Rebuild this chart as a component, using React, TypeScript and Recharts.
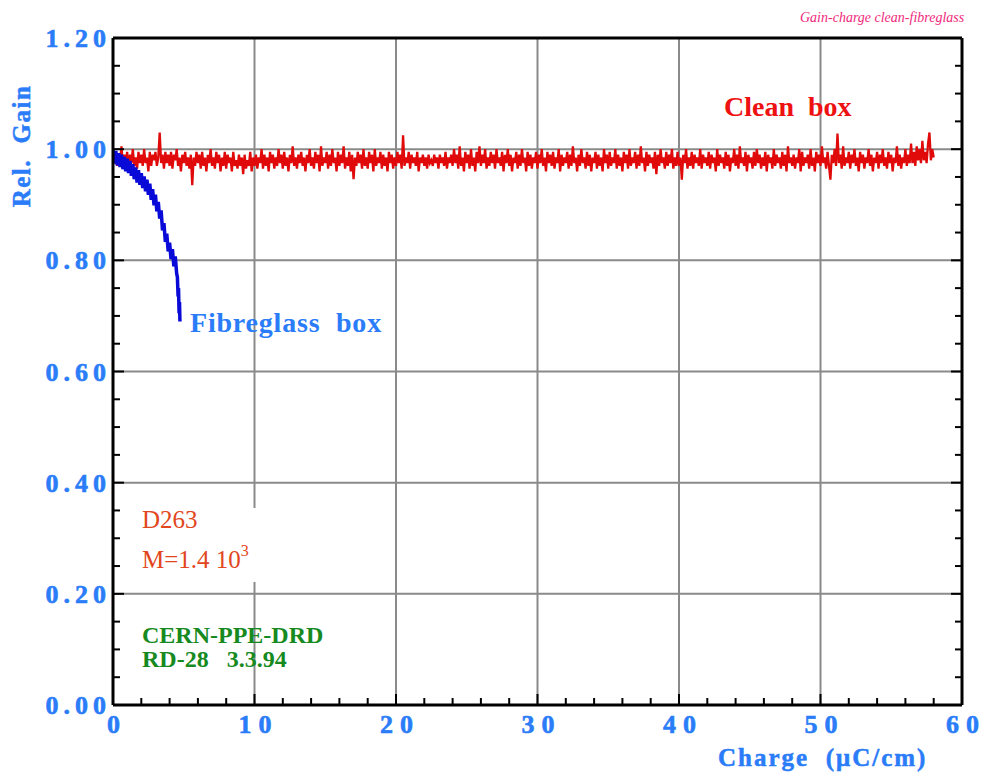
import React from "react";
import { LineChart, Line, XAxis, YAxis, CartesianGrid } from "recharts";

// Clean box: relative gain sampled every 0.1 uC/cm from 0 to 58
const CHARGE_STEP = 0.1;
const cleanGain = [
  1.0, 0.975, 0.995, 0.97, 0.99, 0.98, 1.005, 0.97, 0.99, 0.975,
  0.995, 0.965, 0.99, 0.975, 1.0, 0.97, 0.985, 0.965, 0.995, 0.975,
  0.99, 0.97, 1.0, 0.975, 0.985, 0.96, 0.995, 0.97, 0.99, 0.98,
  0.995, 0.97, 0.985, 1.03, 0.975, 0.99, 0.965, 0.995, 0.975, 0.99,
  0.97, 0.995, 0.965, 0.99, 0.98, 1.0, 0.97, 0.985, 0.96, 0.99,
  0.975, 0.995, 0.97, 0.985, 0.965, 0.99, 0.935, 0.985, 0.97, 0.995,
  0.975, 0.99, 0.965, 0.995, 0.97, 0.985, 0.96, 0.99, 0.975, 1.0,
  0.97, 0.985, 0.965, 0.995, 0.975, 0.99, 0.96, 0.985, 0.97, 0.995,
  0.965, 0.99, 0.975, 0.985, 0.96, 0.995, 0.97, 0.98, 0.965, 0.99,
  0.97, 0.985, 0.955, 0.99, 0.965, 0.98, 0.97, 0.995, 0.96, 0.985,
  0.97, 0.99, 0.965, 0.985, 0.975, 1.0, 0.965, 0.99, 0.97, 0.985,
  0.96, 0.995, 0.975, 0.99, 0.965, 0.985, 0.97, 1.0, 0.975, 0.99,
  0.965, 0.995, 0.97, 0.985, 0.96, 0.99, 0.975, 1.005, 0.97, 0.985,
  0.965, 0.99, 0.975, 0.995, 0.97, 0.985, 0.96, 0.99, 0.975, 1.0,
  0.97, 0.985, 0.965, 0.995, 0.975, 0.99, 0.96, 1.005, 0.97, 0.985,
  0.975, 0.995, 0.965, 0.99, 0.97, 1.0, 0.975, 0.985, 0.96, 0.995,
  0.97, 0.99, 0.975, 1.005, 0.965, 0.985, 0.97, 0.995, 0.96, 0.99,
  0.946, 0.985, 0.97, 0.995, 0.975, 0.99, 0.965, 1.0, 0.97, 0.985,
  0.965, 0.995, 0.975, 0.99, 0.96, 1.0, 0.97, 0.985, 0.975, 0.995,
  0.965, 0.99, 0.97, 0.985, 0.96, 0.995, 0.975, 0.99, 0.965, 0.985,
  0.97, 0.995, 0.975, 0.99, 0.965, 1.025, 0.97, 0.985, 0.975, 0.995,
  0.965, 0.99, 0.975, 0.985, 0.97, 0.995, 0.96, 0.985, 0.975, 0.99,
  0.97, 0.985, 0.965, 0.99, 0.975, 0.98, 0.97, 0.99, 0.975, 0.985,
  0.965, 0.99, 0.975, 0.985, 0.97, 0.995, 0.965, 0.985, 0.975, 0.99,
  0.97, 1.0, 0.975, 0.99, 0.965, 1.005, 0.97, 0.985, 0.96, 0.995,
  0.975, 0.99, 0.965, 1.0, 0.97, 0.985, 0.96, 0.995, 0.975, 1.005,
  0.97, 0.99, 0.975, 1.0, 0.965, 0.985, 0.97, 0.995, 0.975, 0.99,
  0.965, 1.0, 0.975, 0.985, 0.97, 0.995, 0.96, 0.99, 0.975, 1.0,
  0.97, 0.99, 0.96, 0.985, 0.975, 0.995, 0.965, 0.99, 0.97, 1.0,
  0.975, 0.985, 0.96, 0.995, 0.97, 0.99, 0.965, 0.985, 0.975, 0.995,
  0.965, 0.99, 0.975, 1.0, 0.97, 0.985, 0.96, 0.995, 0.975, 0.99,
  0.97, 0.995, 0.965, 0.985, 0.975, 1.0, 0.96, 0.99, 0.97, 0.985,
  0.975, 0.995, 0.965, 0.99, 0.97, 1.005, 0.975, 0.985, 0.96, 0.99,
  0.97, 1.0, 0.975, 0.985, 0.965, 0.995, 0.97, 0.99, 0.96, 0.985,
  0.975, 0.995, 0.965, 0.99, 0.97, 0.985, 0.96, 1.0, 0.975, 0.99,
  0.965, 0.995, 0.97, 0.985, 0.975, 1.0, 0.965, 0.99, 0.97, 0.985,
  0.96, 0.995, 0.975, 0.99, 0.965, 1.0, 0.97, 0.985, 0.975, 0.995,
  0.965, 0.99, 0.97, 1.005, 0.975, 0.985, 0.96, 0.995, 0.97, 0.99,
  0.975, 0.985, 0.965, 0.995, 0.955, 0.99, 0.97, 1.0, 0.975, 0.985,
  0.965, 0.995, 0.97, 0.99, 0.975, 1.0, 0.965, 0.985, 0.97, 0.995,
  0.97, 0.985, 0.945, 0.99, 0.975, 1.0, 0.965, 0.985, 0.97, 0.995,
  0.965, 0.99, 0.975, 0.985, 0.97, 1.0, 0.965, 0.99, 0.975, 0.985,
  0.97, 0.995, 0.965, 0.99, 0.975, 0.985, 0.96, 1.0, 0.97, 0.99,
  0.975, 0.985, 0.965, 0.995, 0.97, 0.99, 0.96, 0.985, 0.975, 1.0,
  0.97, 0.99, 0.965, 1.005, 0.975, 0.985, 0.97, 0.995, 0.96, 0.99,
  0.975, 0.985, 0.965, 0.995, 0.97, 1.0, 0.975, 0.99, 0.965, 0.985,
  0.97, 0.995, 0.96, 0.99, 0.975, 0.985, 0.965, 1.0, 0.97, 0.99,
  0.975, 0.985, 0.965, 0.995, 0.97, 0.99, 0.96, 1.005, 0.975, 0.985,
  0.97, 0.99, 0.965, 0.985, 0.975, 1.0, 0.96, 0.995, 0.97, 0.985,
  0.975, 0.99, 0.965, 1.0, 0.97, 0.985, 0.96, 0.995, 0.975, 0.99,
  0.97, 1.005, 0.975, 0.985, 0.965, 0.995, 0.97, 0.945, 0.99, 0.975,
  1.0, 0.97, 1.028, 0.975, 0.99, 0.965, 1.005, 0.97, 0.985, 0.975,
  0.995, 0.965, 0.99, 0.975, 1.0, 0.97, 0.985, 0.96, 0.995, 0.975,
  0.99, 0.965, 0.985, 0.975, 1.0, 0.97, 0.99, 0.96, 0.985, 0.975,
  0.995, 0.965, 0.99, 0.975, 1.0, 0.97, 0.985, 0.965, 0.995, 0.975,
  0.99, 0.96, 0.985, 0.975, 1.005, 0.97, 0.99, 0.965, 0.985, 0.975,
  1.0, 0.97, 0.99, 0.975, 1.01, 0.975, 0.995, 0.97, 1.005, 0.98,
  1.0, 0.975, 1.015, 0.98, 0.995, 0.975, 1.01, 1.03, 0.98, 1.0,
  0.985,
];

// Fibreglass box
const fibreCharge = [
  0.0, 0.1, 0.2, 0.3, 0.4, 0.5, 0.6, 0.7, 0.8, 0.9,
  1.0, 1.1, 1.2, 1.3, 1.4, 1.5, 1.6, 1.7, 1.8, 1.9,
  2.0, 2.1, 2.2, 2.3, 2.4, 2.5, 2.6, 2.7, 2.8, 2.9,
  3.0, 3.1, 3.2, 3.3, 3.4, 3.5, 3.6, 3.7, 3.8, 3.9,
  4.0, 4.1, 4.2, 4.3, 4.4, 4.5, 4.55, 4.6, 4.63, 4.67, 4.7, 4.73,
];
const fibreGain = [
  1.0, 0.974, 0.997, 0.971, 0.993, 0.968, 0.99, 0.964, 0.986, 0.96,
  0.983, 0.957, 0.979, 0.952, 0.973, 0.946, 0.967, 0.94, 0.962, 0.936,
  0.957, 0.93, 0.951, 0.924, 0.945, 0.918, 0.938, 0.909, 0.928, 0.899,
  0.918, 0.888, 0.905, 0.875, 0.89, 0.854, 0.867, 0.833, 0.848, 0.816,
  0.832, 0.802, 0.82, 0.789, 0.807, 0.776, 0.77, 0.735, 0.75, 0.705, 0.725, 0.69,
];

const xTicks = [
  0, 2, 4, 6, 8, 10, 12, 14, 16, 18, 20, 22, 24, 26, 28, 30,
  32, 34, 36, 38, 40, 42, 44, 46, 48, 50, 52, 54, 56, 58, 60,
];
const xMajor = [0, 10, 20, 30, 40, 50, 60];
const yTicks = [
  0, 0.05, 0.1, 0.15, 0.2, 0.25, 0.3, 0.35, 0.4, 0.45, 0.5, 0.55, 0.6,
  0.65, 0.7, 0.75, 0.8, 0.85, 0.9, 0.95, 1.0, 1.05, 1.1, 1.15, 1.2,
];
const yMajor = [0, 0.2, 0.4, 0.6, 0.8, 1.0, 1.2];
const gridX = [10, 20, 30, 40, 50];
const gridY = [0.2, 0.4, 0.6, 0.8, 1.0];

const cleanData = cleanGain.map((g, i) => ({ x: +(i * CHARGE_STEP).toFixed(2), g }));
const fibreData = fibreCharge.map((x, i) => ({ x, g: fibreGain[i] }));

const LABEL_BLUE = "#2a7cf8";
const SERIF = "'Liberation Serif', 'Times New Roman', serif";

const isMajorX = (v: number) => xMajor.some((m) => Math.abs(m - v) < 1e-6);
const isMajorY = (v: number) => yMajor.some((m) => Math.abs(m - v) < 1e-6);

const BottomTick = (props: any) => {
  const { x, y, payload } = props;
  const major = isMajorX(payload.value);
  return (
    <g>
      <line x1={x} y1={y} x2={x} y2={y - (major ? 11 : 7)} stroke="#000" strokeWidth={2} />
      {major && (
        <text x={x + 4} y={y + 28} textAnchor="middle" fill={LABEL_BLUE} stroke={LABEL_BLUE}
          strokeWidth={0.6} fontFamily={SERIF} fontWeight="bold" fontSize={26} letterSpacing={7}>
          {payload.value}
        </text>
      )}
    </g>
  );
};

const TopTick = (props: any) => {
  const { x, y, payload } = props;
  const major = isMajorX(payload.value);
  return <line x1={x} y1={y} x2={x} y2={y + (major ? 11 : 7)} stroke="#000" strokeWidth={2} />;
};

const LeftTick = (props: any) => {
  const { x, y, payload } = props;
  const major = isMajorY(payload.value);
  return (
    <g>
      <line x1={x} y1={y} x2={x + (major ? 11 : 7)} y2={y} stroke="#000" strokeWidth={2} />
      {major && (
        <text x={x - 2} y={y + 9} textAnchor="end" fill={LABEL_BLUE} stroke={LABEL_BLUE}
          strokeWidth={0.6} fontFamily={SERIF} fontWeight="bold" fontSize={26} letterSpacing={5}>
          {Number(payload.value).toFixed(2)}
        </text>
      )}
    </g>
  );
};

const RightTick = (props: any) => {
  const { x, y, payload } = props;
  const major = isMajorY(payload.value);
  return <line x1={x} y1={y} x2={x - (major ? 11 : 7)} y2={y} stroke="#000" strokeWidth={2} />;
};

const axisLine = { stroke: "#000", strokeWidth: 3 };

export default function App() {
  return (
    <div style={{ position: "absolute", left: 0, top: 0, width: 986, height: 776, background: "#fff" }}>
      <LineChart width={986} height={776} margin={{ top: 28, right: 14, bottom: 41, left: 53 }}>
        <CartesianGrid xAxisId="b" yAxisId="l" stroke="#8a8a8a" strokeWidth={2}
          verticalValues={gridX} horizontalValues={gridY} />
        <XAxis xAxisId="b" type="number" dataKey="x" domain={[0, 60]} ticks={xTicks} interval={0}
          height={30} tickSize={0} tickMargin={0} tickLine={false} axisLine={axisLine}
          tick={<BottomTick />} allowDataOverflow />
        <XAxis xAxisId="t" orientation="top" type="number" domain={[0, 60]} ticks={xTicks} interval={0}
          height={10} tickSize={0} tickMargin={0} tickLine={false} axisLine={axisLine}
          tick={<TopTick />} allowDataOverflow />
        <YAxis yAxisId="l" type="number" domain={[0, 1.2]} ticks={yTicks} interval={0}
          width={60} tickSize={0} tickMargin={0} tickLine={false} axisLine={axisLine}
          tick={<LeftTick />} allowDataOverflow />
        <YAxis yAxisId="r" orientation="right" type="number" domain={[0, 1.2]} ticks={yTicks} interval={0}
          width={10} tickSize={0} tickMargin={0} tickLine={false} axisLine={axisLine}
          tick={<RightTick />} allowDataOverflow />
        <Line data={cleanData} dataKey="g" xAxisId="b" yAxisId="l" type="linear" stroke="#e00a0a"
          strokeWidth={2.3} dot={false} isAnimationActive={false} />
        <Line data={fibreData} dataKey="g" xAxisId="b" yAxisId="l" type="linear" stroke="#0a0ad8"
          strokeWidth={3.5} dot={false} isAnimationActive={false} />
      </LineChart>
      <svg width={986} height={776} style={{ position: "absolute", left: 0, top: 0, pointerEvents: "none" }}>
        <text x={800} y={22} fill="#f0287c" fontFamily={SERIF} fontStyle="italic" fontSize={14}>
          Gain-charge clean-fibreglass
        </text>
        <text transform="translate(30,146) rotate(-90)" textAnchor="middle" fill={LABEL_BLUE}
          stroke={LABEL_BLUE} strokeWidth={0.5}
          fontFamily={SERIF} fontWeight="bold" fontSize={25} letterSpacing={1.5} style={{ whiteSpace: "pre" }}>
          Rel.  Gain
        </text>
        <text x={718} y={766} fill={LABEL_BLUE} stroke={LABEL_BLUE} strokeWidth={0.5}
          fontFamily={SERIF} fontWeight="bold" fontSize={25}
          letterSpacing={2} style={{ whiteSpace: "pre" }}>
          Charge  (μC/cm)
        </text>
        <text x={724} y={116} fill="#ee1111" fontFamily={SERIF} fontWeight="bold" fontSize={28}
          style={{ whiteSpace: "pre" }}>
          Clean  box
        </text>
        <text x={190} y={332} fill={LABEL_BLUE} fontFamily={SERIF} fontWeight="bold" fontSize={28}
          letterSpacing={0.8} style={{ whiteSpace: "pre" }}>
          Fibreglass  box
        </text>
        <rect x={246} y={508} width={18} height={74} fill="#fff" />
        <text x={142} y={528} fill="#e2461c" fontFamily={SERIF} fontSize={25}>D263</text>
        <text x={142} y={568} fill="#e2461c" fontFamily={SERIF} fontSize={25}>
          M=1.4 10<tspan dy={-12} fontSize={16}>3</tspan>
        </text>
        <text x={142} y={643} fill="#168a1e" fontFamily={SERIF} fontWeight="bold" fontSize={24}>
          CERN-PPE-DRD
        </text>
        <text x={142} y={667} fill="#168a1e" fontFamily={SERIF} fontWeight="bold" fontSize={24}
          style={{ whiteSpace: "pre" }}>
          RD-28   3.3.94
        </text>
      </svg>
    </div>
  );
}
